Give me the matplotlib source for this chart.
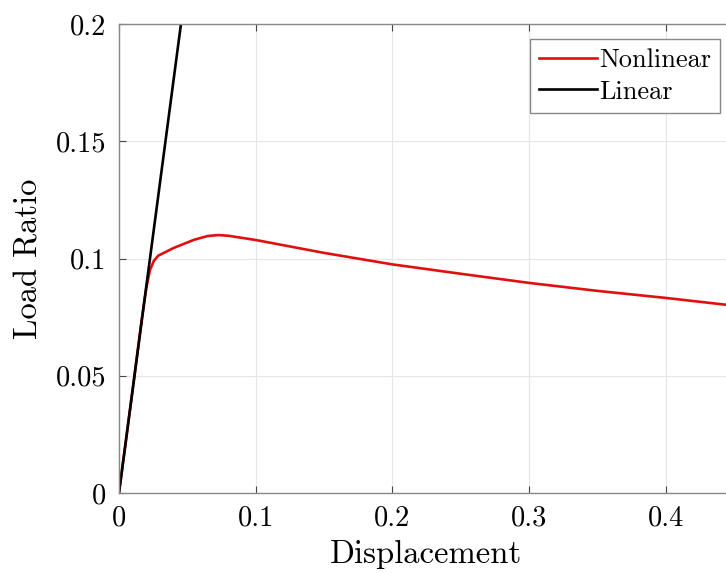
import matplotlib

matplotlib.use("Agg")
import matplotlib.pyplot as plt
from matplotlib.ticker import FuncFormatter

plt.rcParams["font.family"] = ["cmr10", "DejaVu Serif"]
plt.rcParams["mathtext.fontset"] = "cm"
plt.rcParams["axes.formatter.use_mathtext"] = True

# nonlinear load-displacement curve
disp_nl = [0.0, 0.010, 0.0166, 0.020, 0.0227, 0.0255, 0.0287, 0.040, 0.055, 0.065,
           0.0728, 0.080, 0.100, 0.150, 0.200, 0.250, 0.300, 0.350, 0.400, 0.450]
load_nl = [0.0, 0.0441, 0.0738, 0.0875, 0.0951, 0.0990, 0.1012, 0.1045, 0.1080, 0.1096,
           0.1100, 0.1097, 0.1079, 0.1024, 0.0975, 0.0935, 0.0896, 0.0862, 0.0832, 0.0799]

# linear response
disp_lin = [0.0, 0.050]
load_lin = [0.0, 0.2205]

xticks = [0, 0.1, 0.2, 0.3, 0.4]
yticks = [0, 0.05, 0.1, 0.15, 0.2]

fig = plt.figure(figsize=(7.26, 5.73), dpi=100)
ax = fig.add_axes([0.1639, 0.1396, 0.847, 0.8185])

ax.plot(disp_nl, load_nl, color="#e01010", lw=1.9, label="Nonlinear")
ax.plot(disp_lin, load_lin, color="black", lw=1.9, label="Linear")

ax.set_xlim(0, 0.45)
ax.set_ylim(0, 0.2)
ax.set_xticks(xticks)
ax.set_yticks(yticks)
fmt = FuncFormatter(lambda v, p: f"{v:g}")
ax.xaxis.set_major_formatter(fmt)
ax.yaxis.set_major_formatter(fmt)
ax.tick_params(direction="in", length=5, width=0.8, color="#444444", labelsize=20.5,
               top=True, right=True, pad=9)
for s in ax.spines.values():
    s.set_color("#888888")
    s.set_linewidth(1.0)
ax.grid(True, color="#e6e6e6", lw=0.8)
ax.set_axisbelow(True)

ax.set_xlabel("Displacement", fontsize=23.5, labelpad=6)
ax.set_ylabel("Load Ratio", fontsize=23.5, labelpad=9)

leg = ax.legend(loc="upper right", bbox_to_anchor=(0.9917, 0.932), bbox_transform=fig.transFigure,
                borderaxespad=0, fontsize=19, handlelength=2.2, handletextpad=0.05,
                labelspacing=0.3, borderpad=0.35, fancybox=False, framealpha=1)
leg.get_frame().set_edgecolor("#888888")
leg.get_frame().set_linewidth(1.0)

fig.savefig("out.png", dpi=100)
